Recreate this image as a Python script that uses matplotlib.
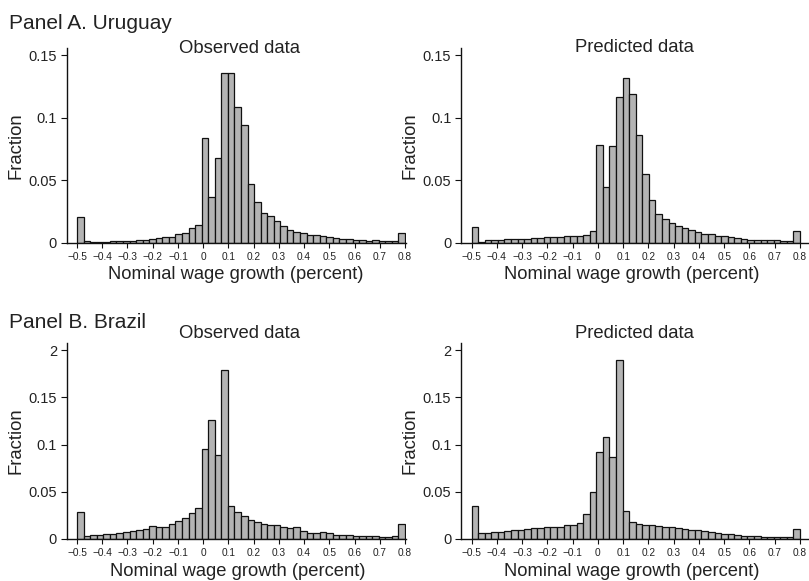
import numpy as np
import matplotlib
matplotlib.use("Agg")
import matplotlib.pyplot as plt

plt.rcParams['font.family'] = ['Liberation Sans', 'DejaVu Sans']

# ---- data: 50 bins of width 0.026 from -0.5 to 0.8 ----
bin_start = -0.5
bin_width = 0.026

uru_observed = [0.0208, 0.0013, 0.0008, 0.0008, 0.0010, 0.0013, 0.0013, 0.0019, 0.0019, 0.0027,
                0.0021, 0.0032, 0.0037, 0.0045, 0.0050, 0.0075, 0.0080, 0.0117, 0.0147, 0.0837,
                0.0370, 0.0675, 0.1355, 0.1360, 0.1088, 0.0941, 0.0469, 0.0331, 0.0243, 0.0216,
                0.0179, 0.0136, 0.0107, 0.0088, 0.0080, 0.0067, 0.0061, 0.0053, 0.0045, 0.0037,
                0.0032, 0.0029, 0.0027, 0.0021, 0.0019, 0.0021, 0.0016, 0.0016, 0.0016, 0.0080]
uru_predicted = [0.0128, 0.0011, 0.0021, 0.0021, 0.0027, 0.0029, 0.0029, 0.0035, 0.0035, 0.0037,
                 0.0043, 0.0045, 0.0045, 0.0045, 0.0056, 0.0053, 0.0056, 0.0064, 0.0096, 0.0784,
                 0.0448, 0.0773, 0.1168, 0.1315, 0.1187, 0.0864, 0.0549, 0.0341, 0.0232, 0.0189,
                 0.0160, 0.0139, 0.0123, 0.0104, 0.0088, 0.0075, 0.0072, 0.0053, 0.0056, 0.0051,
                 0.0040, 0.0032, 0.0027, 0.0027, 0.0024, 0.0024, 0.0021, 0.0013, 0.0016, 0.0096]
bra_observed = [0.0280, 0.0025, 0.0035, 0.0039, 0.0046, 0.0053, 0.0060, 0.0071, 0.0085, 0.0096,
                0.0099, 0.0131, 0.0121, 0.0128, 0.0152, 0.0188, 0.0220, 0.0270, 0.0326, 0.0957,
                0.1259, 0.0887, 0.1790, 0.0348, 0.0280, 0.0238, 0.0199, 0.0181, 0.0156, 0.0142,
                0.0142, 0.0128, 0.0110, 0.0128, 0.0085, 0.0064, 0.0060, 0.0067, 0.0057, 0.0043,
                0.0035, 0.0035, 0.0032, 0.0025, 0.0025, 0.0025, 0.0018, 0.0018, 0.0032, 0.0160]
bra_predicted = [0.0351, 0.0057, 0.0064, 0.0071, 0.0074, 0.0082, 0.0089, 0.0096, 0.0099, 0.0110,
                 0.0117, 0.0121, 0.0124, 0.0128, 0.0142, 0.0149, 0.0170, 0.0259, 0.0493, 0.0922,
                 0.1078, 0.0865, 0.1897, 0.0294, 0.0181, 0.0156, 0.0149, 0.0142, 0.0131, 0.0128,
                 0.0121, 0.0117, 0.0106, 0.0096, 0.0089, 0.0078, 0.0071, 0.0060, 0.0053, 0.0046,
                 0.0043, 0.0032, 0.0028, 0.0025, 0.0021, 0.0018, 0.0018, 0.0014, 0.0014, 0.0103]

x_ticks = [-0.5, -0.4, -0.3, -0.2, -0.1, 0.0, 0.1, 0.2, 0.3, 0.4, 0.5, 0.6, 0.7, 0.8]
x_ticklabels = ["\u22120.5", "\u22120.4", "\u22120.3", "\u22120.2", "\u22120.1", "0",
                "0.1", "0.2", "0.3", "0.4", "0.5", "0.6", "0.7", "0.8"]
ya_ticks = [0, 0.05, 0.1, 0.15]
ya_ticklabels = ["0", "0.05", "0.1", "0.15"]
yb_ticks = [0, 0.05, 0.1, 0.15, 0.2]
yb_ticklabels = ["0", "0.05", "0.1", "0.15", "2"]

panel_titles = ["Panel A. Uruguay", "Panel B. Brazil"]
sub_titles = ["Observed data", "Predicted data"]
x_label = "Nominal wage growth (percent)"
y_label = "Fraction"

W, H = 809, 581
fig = plt.figure(figsize=(W / 100, H / 100), dpi=100)
TXT = "#222222"

def add_ax(left, right, top, bottom):
    return fig.add_axes([left / W, 1 - bottom / H, (right - left) / W, (bottom - top) / H])

def draw(ax, vals, xlim, ylim, yticks, yticklabels):
    edges = bin_start + bin_width * np.arange(len(vals))
    ax.bar(edges, vals, width=bin_width, align='edge', color='#b4b4b4',
           edgecolor='#111111', linewidth=0.9)
    ax.set_xlim(*xlim)
    ax.set_ylim(*ylim)
    ax.set_xticks(x_ticks)
    ax.set_xticklabels(x_ticklabels, fontsize=7.3, color=TXT)
    ax.set_yticks(yticks)
    ax.set_yticklabels(yticklabels, fontsize=10.5, color=TXT)
    ax.tick_params(axis='x', length=3.8, width=0.8, pad=3, color='#111111')
    ax.tick_params(axis='y', length=4.0, width=0.8, pad=3, color='#111111')
    for s in ['top', 'right']:
        ax.spines[s].set_visible(False)
    for s in ['left', 'bottom']:
        ax.spines[s].set_linewidth(1.0)
        ax.spines[s].set_color('#111111')
    ax.set_ylabel(y_label, fontsize=13.3, color=TXT, labelpad=3)

axA1 = add_ax(66.7, 406, 48, 243)
axA2 = add_ax(461, 809, 48, 243)
axB1 = add_ax(66.7, 406, 343, 538.7)
axB2 = add_ax(461, 809, 343, 538.7)

draw(axA1, uru_observed, (-0.541, 0.804), (0, 0.1556), ya_ticks, ya_ticklabels)
draw(axA2, uru_predicted, (-0.542, 0.836), (0, 0.1556), ya_ticks, ya_ticklabels)
draw(axB1, bra_observed, (-0.541, 0.804), (0, 0.2078), yb_ticks, yb_ticklabels)
draw(axB2, bra_predicted, (-0.542, 0.836), (0, 0.2078), yb_ticks, yb_ticklabels)

def ftext(x, y, s, size, ha='center'):
    fig.text(x / W, 1 - y / H, s, fontsize=size, ha=ha, va='baseline', color=TXT)

ftext(9, 29, panel_titles[0], 15, ha='left')
ftext(9, 328, panel_titles[1], 15, ha='left')
ftext(240, 52.7, sub_titles[0], 13.3)
ftext(634.5, 52.3, sub_titles[1], 13.3)
ftext(240, 337.5, sub_titles[0], 13.3)
ftext(634.5, 337.7, sub_titles[1], 13.3)
ftext(236, 279, x_label, 13.2)
ftext(631.3, 279.3, x_label, 13.2)
ftext(238, 576, x_label, 13.2)
ftext(631.3, 576, x_label, 13.2)

fig.savefig("out.png", dpi=100)
